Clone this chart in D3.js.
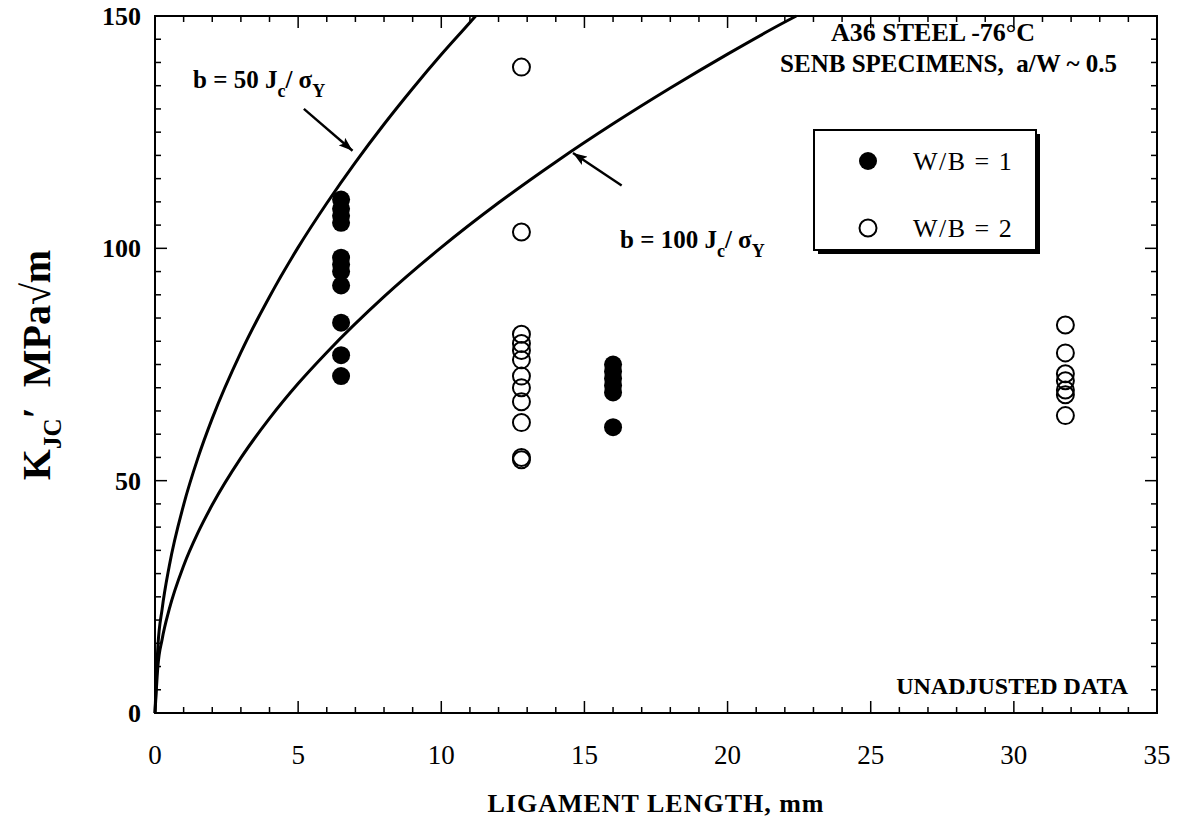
<!DOCTYPE html>
<meta charset="utf-8">
<script src="https://d3js.org/d3.v7.min.js"></script>
<style>
  body { margin: 0; background: #fff; }
  text { font-family: "Liberation Serif", "DejaVu Serif", serif; fill: #000; white-space: pre; }
</style>
<div id="chart"></div>
<script>
// data
var xTicks = [0, 5, 10, 15, 20, 25, 30, 35];
var yTicks = [0, 50, 100, 150];

// W/B = 1 (filled)
var closedX = [6.5, 6.5, 6.5, 6.5, 6.5, 6.5, 6.5, 6.5, 6.5, 6.5, 6.5,
               16, 16, 16, 16, 16, 16];
var closedK = [110.5, 108.5, 107, 105.5, 98, 96.5, 95, 92, 84, 77, 72.5,
               75, 73.5, 72, 70.5, 69, 61.5];

// W/B = 2 (open)
var openX = [12.8, 12.8, 12.8, 12.8, 12.8, 12.8, 12.8, 12.8, 12.8, 12.8, 12.8, 12.8,
             31.8, 31.8, 31.8, 31.8, 31.8, 31.8, 31.8];
var openK = [139, 103.5, 81.5, 79.5, 78, 76, 72.5, 70, 67, 62.5, 55, 54.5,
             83.5, 77.5, 73, 71.5, 69.5, 68.5, 64];

// b = 50 Jc/sy curve
var curve50X = [0, 0.1, 0.25, 0.5, 1, 1.5, 2, 3, 4, 5, 6, 7, 8, 9, 10, 11, 11.2];
var curve50K = [0, 14.2, 22.4, 31.7, 44.8, 54.9, 63.4, 77.6, 89.6, 100.2, 109.7, 118.5, 126.7, 134.4, 141.7, 148.6, 150];
// b = 100 Jc/sy curve
var curve100X = [0, 0.1, 0.25, 0.5, 1, 1.5, 2, 3, 4, 5, 6, 8, 10, 12, 14, 16, 18, 20, 22, 22.4];
var curve100K = [0, 10, 15.9, 22.4, 31.7, 38.8, 44.8, 54.9, 63.4, 70.9, 77.6, 89.6, 100.2, 109.8, 118.6, 126.8, 134.5, 141.8, 148.7, 150];

var svg = d3.select("#chart").append("svg")
    .attr("width", 1180)
    .attr("height", 822);

var x = d3.scaleLinear().domain([0, 35]).range([155, 1157]);
var y = d3.scaleLinear().domain([0, 150]).range([713, 16]);

// frame
svg.append("rect")
    .attr("x", x(0)).attr("y", y(150))
    .attr("width", x(35) - x(0)).attr("height", y(0) - y(150))
    .attr("fill", "none").attr("stroke", "#000").attr("stroke-width", 2);

// ticks (inward on all four sides)
var g = svg.append("g").attr("stroke", "#000").attr("stroke-width", 1.5);
d3.range(0, 36, 1).forEach(function(v) {
  var len = v % 5 == 0 ? 12 : 6;
  g.append("line").attr("x1", x(v)).attr("x2", x(v)).attr("y1", y(0)).attr("y2", y(0) - len);
  g.append("line").attr("x1", x(v)).attr("x2", x(v)).attr("y1", y(150)).attr("y2", y(150) + len);
});
d3.range(0, 151, 5).forEach(function(v) {
  var len = v % 50 == 0 ? 12 : 6;
  g.append("line").attr("y1", y(v)).attr("y2", y(v)).attr("x1", x(0)).attr("x2", x(0) + len);
  g.append("line").attr("y1", y(v)).attr("y2", y(v)).attr("x1", x(35)).attr("x2", x(35) - len);
});

// tick labels
svg.selectAll(".xl").data(xTicks).enter().append("text")
    .attr("x", function(d) { return x(d); })
    .attr("y", 764)
    .attr("text-anchor", "middle")
    .style("font-size", "27px")
    .text(function(d) { return d; });
svg.selectAll(".yl").data(yTicks).enter().append("text")
    .attr("x", 141)
    .attr("y", function(d) { return y(d) + 9; })
    .attr("text-anchor", "end")
    .style("font-size", "26px")
    .style("font-weight", "bold")
    .text(function(d) { return d; });

// axis titles
svg.append("text")
    .attr("x", x(17.5)).attr("y", 812)
    .attr("text-anchor", "middle")
    .style("font-size", "26px").style("font-weight", "bold").style("letter-spacing", "1px")
    .text("LIGAMENT LENGTH, mm");

var yt = svg.append("text")
    .attr("transform", "translate(50,365) rotate(-90)")
    .attr("text-anchor", "middle")
    .style("font-size", "40px").style("font-weight", "bold");
yt.append("tspan").text("K");
yt.append("tspan").attr("dy", 11).style("font-size", "25px").text("JC");
yt.append("tspan").attr("dy", -11).text("′  MPa√m");

// curves
var line = d3.line()
    .x(function(d) { return x(d[0]); })
    .y(function(d) { return y(d[1]); })
    .curve(d3.curveMonotoneX);
[[curve50X, curve50K], [curve100X, curve100K]].forEach(function(c) {
  svg.append("path")
      .datum(d3.zip(c[0], c[1]))
      .attr("fill", "none").attr("stroke", "#000").attr("stroke-width", 3)
      .attr("d", line);
});

// points
svg.selectAll(".cl").data(d3.zip(closedX, closedK)).enter().append("circle")
    .attr("cx", function(d) { return x(d[0]); })
    .attr("cy", function(d) { return y(d[1]); })
    .attr("r", 9).attr("fill", "#000");
svg.selectAll(".op").data(d3.zip(openX, openK)).enter().append("circle")
    .attr("cx", function(d) { return x(d[0]); })
    .attr("cy", function(d) { return y(d[1]); })
    .attr("r", 8.5).attr("fill", "none").attr("stroke", "#000").attr("stroke-width", 2);

// arrows
svg.append("defs").append("marker")
    .attr("id", "ah").attr("viewBox", "0 0 14 10").attr("refX", 14).attr("refY", 5)
    .attr("markerWidth", 14).attr("markerHeight", 10).attr("markerUnits", "userSpaceOnUse")
    .attr("orient", "auto")
  .append("path").attr("d", "M0,0 L14,5 L0,10 L3,5 Z").attr("fill", "#000");
function arrow(x1, k1, x2, k2) {
  svg.append("line")
      .attr("x1", x(x1)).attr("y1", y(k1)).attr("x2", x(x2)).attr("y2", y(k2))
      .attr("stroke", "#000").attr("stroke-width", 2.4)
      .attr("marker-end", "url(#ah)");
}
arrow(5.2, 130, 6.9, 121);
arrow(16.3, 113.5, 14.6, 120.5);

function eqLabel(px, py, num) {
  var t = svg.append("text").attr("x", px).attr("y", py)
      .style("font-size", "25px").style("font-weight", "bold");
  t.append("tspan").text("b = " + num + " J");
  t.append("tspan").attr("dy", 9).style("font-size", "18px").text("c");
  t.append("tspan").attr("dy", -9).text("/ σ");
  t.append("tspan").attr("dy", 9).style("font-size", "18px").text("Y");
}
eqLabel(193, 88, "50");
eqLabel(620, 248, "100");

// annotations
svg.append("text").attr("x", 933).attr("y", 41).attr("text-anchor", "middle")
    .style("font-size", "26px").style("font-weight", "bold").text("A36 STEEL -76°C");
svg.append("text").attr("x", 1117).attr("y", 72).attr("text-anchor", "end")
    .style("font-size", "25px").style("font-weight", "bold").text("SENB SPECIMENS,  a/W ~ 0.5");
svg.append("text").attr("x", 1128).attr("y", 694).attr("text-anchor", "end")
    .style("font-size", "24px").style("font-weight", "bold").text("UNADJUSTED DATA");

// legend
svg.append("rect").attr("x", 818).attr("y", 134).attr("width", 222).attr("height", 120).attr("fill", "#000");
svg.append("rect").attr("x", 814).attr("y", 130).attr("width", 222).attr("height", 120)
    .attr("fill", "#fff").attr("stroke", "#000").attr("stroke-width", 2);
svg.append("circle").attr("cx", 868).attr("cy", 161).attr("r", 9).attr("fill", "#000");
svg.append("circle").attr("cx", 868).attr("cy", 228).attr("r", 8.5)
    .attr("fill", "none").attr("stroke", "#000").attr("stroke-width", 2);
svg.append("text").attr("x", 913).attr("y", 170).style("font-size", "26px").style("letter-spacing", "1.5px").text("W/B = 1");
svg.append("text").attr("x", 913).attr("y", 237).style("font-size", "26px").style("letter-spacing", "1.5px").text("W/B = 2");
</script>
